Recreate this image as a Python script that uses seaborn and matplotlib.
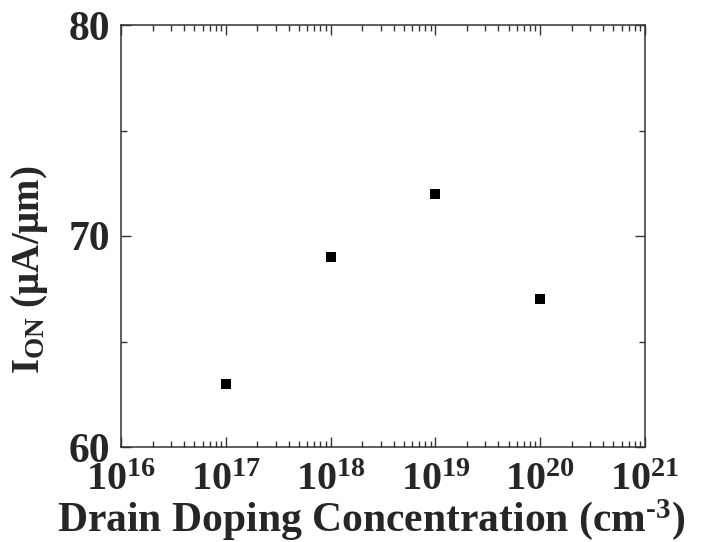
import matplotlib
matplotlib.use("Agg")
import matplotlib.pyplot as plt
import seaborn as sns
import pandas as pd
from matplotlib.ticker import LogLocator, MultipleLocator, NullFormatter

# Drain doping sweep and the resulting on-current
doping = [1e17, 1e18, 1e19, 1e20]
i_on = [63, 69, 72, 67]

x_limits = (1e16, 1e21)
y_limits = (60, 80)
y_major = [60, 70, 80]

df = pd.DataFrame({"doping": doping, "i_on": i_on})

sns.set_style("ticks")
plt.rcParams["font.family"] = ["Liberation Serif", "DejaVu Serif"]
plt.rcParams["font.weight"] = "bold"
plt.rcParams["mathtext.fontset"] = "custom"
plt.rcParams["mathtext.rm"] = "Liberation Serif:bold"
plt.rcParams["mathtext.it"] = "Liberation Serif:bold"
plt.rcParams["mathtext.bf"] = "Liberation Serif:bold"
plt.rcParams["mathtext.default"] = "rm"

fig = plt.figure(figsize=(7.17, 5.42), dpi=100)
ax = fig.add_axes([121 / 717, 1 - 447 / 542, 524 / 717, 422 / 542])

sns.scatterplot(data=df, x="doping", y="i_on", marker="s", color="black",
                s=44, linewidth=0, ax=ax, legend=False)

ax.set_xscale("log")
ax.set_xlim(*x_limits)
ax.set_ylim(*y_limits)
ax.set_yticks(y_major)
ax.yaxis.set_minor_locator(MultipleLocator(5))
ax.xaxis.set_major_locator(LogLocator(base=10, numticks=10))
ax.xaxis.set_minor_locator(LogLocator(base=10, subs=range(2, 10), numticks=100))
ax.xaxis.set_minor_formatter(NullFormatter())

for sp in ax.spines.values():
    sp.set_visible(True)
    sp.set_linewidth(1.1)
    sp.set_color("#333333")

ax.tick_params(which="both", direction="in", top=True, right=True,
               color="#333333", width=1.0)
ax.tick_params(which="major", length=7)
ax.tick_params(which="minor", length=4)
ax.tick_params(axis="x", which="major", labelsize=29, pad=11)
ax.tick_params(axis="y", which="major", labelsize=30, pad=8)

ax.set_xlabel("Drain Doping Concentration (cm$^{\\text{-3}}$)", fontsize=30,
              fontweight="bold", va="baseline")
ax.xaxis.set_label_coords(0.477, -0.199)
ax.set_ylabel("I$_{\\mathrm{ON}}$ (μA/μm)", fontsize=28, fontweight="bold")
ax.yaxis.set_label_coords(-0.135, 0.42)

fig.savefig("out.png", dpi=100)
